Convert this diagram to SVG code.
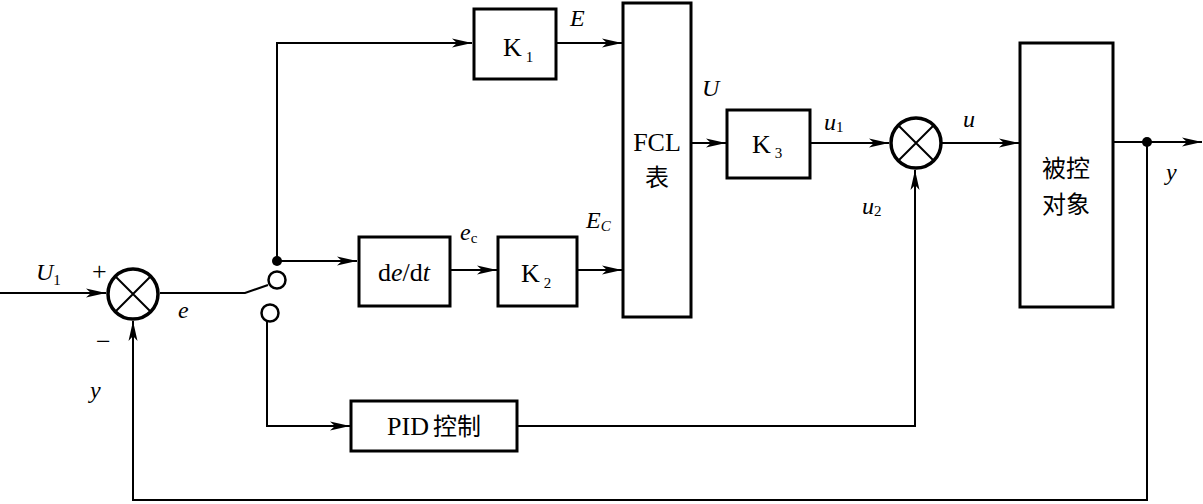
<svg xmlns="http://www.w3.org/2000/svg" width="1203" height="504" viewBox="0 0 1203 504">
<style>
.box{fill:#fff;stroke:#000;stroke-width:3}
.ln{fill:none;stroke:#000;stroke-width:2}
.sum{fill:#fff;stroke:#000;stroke-width:3.5}
.x{stroke:#000;stroke-width:2}
.t{font-family:"Liberation Serif","Noto Serif CJK SC","Noto Sans CJK SC",serif;font-size:26px;fill:#000}
.cn{font-family:"Noto Sans CJK SC",sans-serif;font-size:24px;fill:#000}
.v{font-family:"Liberation Serif",serif;font-style:italic;font-size:24px;fill:#000}
.s{font-size:15px}
</style>
<defs>
<marker id="a" viewBox="0 0 20 10" refX="20" refY="5" markerWidth="20" markerHeight="10" markerUnits="userSpaceOnUse" orient="auto">
<path d="M0,0.5 L20,5 L0,9.5 L5,5 Z" fill="#000"/>
</marker>
</defs>
<g id="connectors">
<path class="ln" d="M0,293 H106" marker-end="url(#a)"/>
<path class="ln" d="M160,293 H245 L268,285"/>
<path class="ln" d="M277,261 V43 H472" marker-end="url(#a)"/>
<path class="ln" d="M277,261 H357" marker-end="url(#a)"/>
<path class="ln" d="M556,43 H622" marker-end="url(#a)"/>
<path class="ln" d="M450,270 H497" marker-end="url(#a)"/>
<path class="ln" d="M577,270 H622" marker-end="url(#a)"/>
<path class="ln" d="M691,143 H726" marker-end="url(#a)"/>
<path class="ln" d="M810,143 H889" marker-end="url(#a)"/>
<path class="ln" d="M942,143 H1019" marker-end="url(#a)"/>
<path class="ln" d="M1113,142 H1202" marker-end="url(#a)"/>
<path class="ln" d="M267,322 V426 H350" marker-end="url(#a)"/>
<path class="ln" d="M517,426 H915 V170" marker-end="url(#a)"/>
<path class="ln" d="M1147,142 V500 H133 V321" marker-end="url(#a)"/>
<circle cx="277" cy="261" r="5" fill="#000"/>
<circle cx="1147" cy="142" r="5" fill="#000"/>
<circle cx="277" cy="280" r="8.5" fill="#fff" stroke="#000" stroke-width="2.5"/>
<circle cx="270" cy="313" r="8.5" fill="#fff" stroke="#000" stroke-width="2.5"/>
</g>
<g id="sum1">
<circle class="sum" cx="133" cy="294" r="25"/>
<path class="x" d="M115,276 L151,312 M151,276 L115,312"/>
</g>
<g id="sum2">
<circle class="sum" cx="916" cy="143" r="25"/>
<path class="x" d="M898,125 L934,161 M934,125 L898,161"/>
</g>
<g id="k1">
<rect class="box" x="474" y="9" width="82" height="70"/>
<text class="t" x="503" y="56">K<tspan class="s" dx="4" dy="6">1</tspan></text>
</g>
<g id="dedt">
<rect class="box" x="359" y="237" width="91" height="69"/>
<text class="t" x="404" y="281" text-anchor="middle">d<tspan font-style="italic">e</tspan>/d<tspan font-style="italic">t</tspan></text>
</g>
<g id="k2">
<rect class="box" x="498" y="237" width="79" height="69"/>
<text class="t" x="521" y="282">K<tspan class="s" dx="4" dy="6">2</tspan></text>
</g>
<g id="fcl">
<rect class="box" x="623" y="3" width="68" height="314"/>
<text class="t" x="657" y="151" text-anchor="middle" font-size="24">FCL</text>
<text class="cn" x="657" y="186" text-anchor="middle">表</text>
</g>
<g id="k3">
<rect class="box" x="727" y="110" width="83" height="68"/>
<text class="t" x="752" y="153">K<tspan class="s" dx="4" dy="5">3</tspan></text>
</g>
<g id="plant">
<rect class="box" x="1020" y="43" width="93" height="264"/>
<text class="cn" x="1066" y="177" text-anchor="middle">被控</text>
<text class="cn" x="1066" y="213" text-anchor="middle">对象</text>
</g>
<g id="pid">
<rect class="box" x="351" y="401" width="166" height="50"/>
<text class="t" x="434" y="435" text-anchor="middle">PID<tspan font-family="Noto Sans CJK SC,sans-serif" font-size="24" dx="4">控制</tspan></text>
</g>
<g id="labels">
<text class="v" x="36" y="280">U<tspan class="s" font-style="normal" dy="5">1</tspan></text>
<text class="t" x="92" y="280" font-size="20">+</text>
<text class="t" x="96" y="350" font-size="20">−</text>
<text class="v" x="90" y="398">y</text>
<text class="v" x="178" y="318">e</text>
<text class="v" x="570" y="26">E</text>
<text class="v" x="460" y="240">e<tspan class="s" font-style="normal" dy="3">c</tspan></text>
<text class="v" x="586" y="228">E<tspan class="s" dy="3">C</tspan></text>
<text class="v" x="702" y="96">U</text>
<text class="v" x="824" y="130">u<tspan class="s" font-style="normal" dy="2">1</tspan></text>
<text class="v" x="862" y="214">u<tspan class="s" font-style="normal" dy="2">2</tspan></text>
<text class="v" x="963" y="127">u</text>
<text class="v" x="1166" y="180">y</text>
</g>
</svg>
